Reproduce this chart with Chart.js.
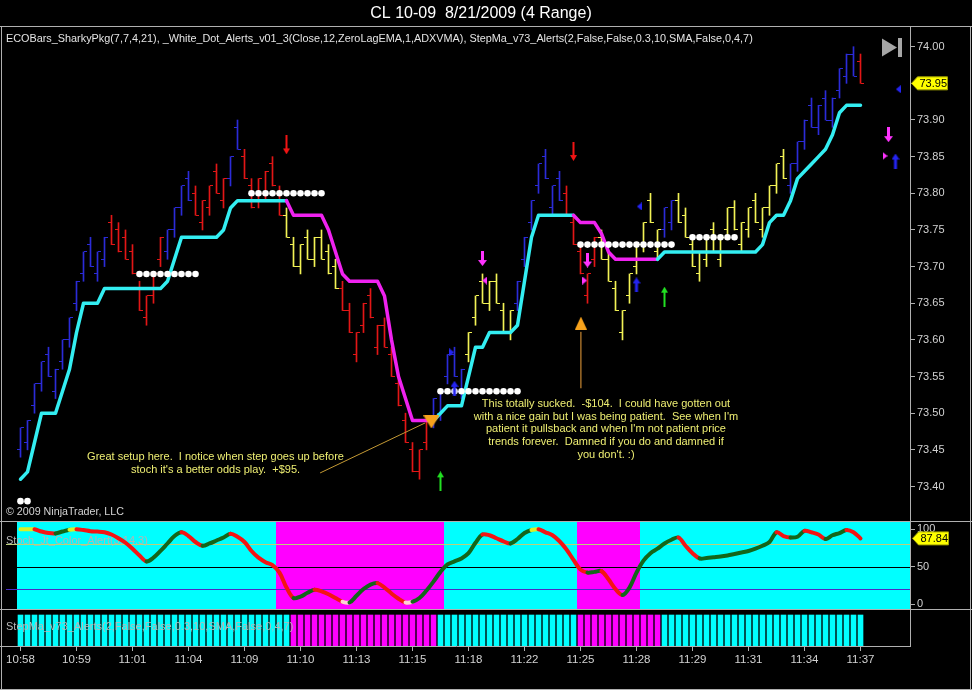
<!DOCTYPE html>
<html>
<head>
<meta charset="utf-8">
<script src="https://cdn.jsdelivr.net/npm/chart.js@4.4.1/dist/chart.umd.min.js"></script>
<style>
  html, body { margin: 0; padding: 0; background: #000; }
  #wrap { position: relative; width: 972px; height: 690px; overflow: hidden; background: #000; }
  #wrap canvas { position: absolute; left: 0; display: block; }
</style>
</head>
<body>
<div id="wrap">
  <canvas id="priceCanvas" width="972" height="521" style="top:0;width:972px;height:521px"></canvas>
  <canvas id="stochCanvas" width="972" height="88" style="top:521px;width:972px;height:88px"></canvas>
  <canvas id="stepCanvas" width="972" height="81" style="top:609px;width:972px;height:81px"></canvas>
</div>
<script>
// ---------------------------------------------------------------------------
// Texts
// ---------------------------------------------------------------------------
const chartTitle = 'CL 10-09  8/21/2009 (4 Range)';
const indicatorCaption = 'ECOBars_SharkyPkg(7,7,4,21), _White_Dot_Alerts_v01_3(Close,12,ZeroLagEMA,1,ADXVMA), StepMa_v73_Alerts(2,False,False,0.3,10,SMA,False,0,4,7)';
const stochCaption = 'Stoch_Jt_Color_Alert(3,14,3)';
const stepCaption = 'StepMa_v73_Alerts(2,False,False,0.3,10,SMA,False,0,4,7)';
const copyrightText = '\u00a9 2009 NinjaTrader, LLC';

// ---------------------------------------------------------------------------
// Axis ticks
// ---------------------------------------------------------------------------
const timeTickBars = [0, 8, 16, 24, 32, 40, 48, 56, 64, 72, 80, 88, 96, 104, 112, 120];
const timeLabels = ['10:58', '10:59', '11:01', '11:04', '11:09', '11:10', '11:13', '11:15',
                    '11:18', '11:22', '11:25', '11:28', '11:29', '11:31', '11:34', '11:37'];
const priceTicks = [73.40, 73.45, 73.50, 73.55, 73.60, 73.65, 73.70, 73.75, 73.80, 73.85, 73.90, 73.95, 74.00];
const stochTicks = [0, 50, 100];
const stochLevels = [20, 50, 80];

// ---------------------------------------------------------------------------
// 4-tick range bars (one entry per bar)
// ---------------------------------------------------------------------------
const barHigh = [
  73.48, 73.49, 73.54, 73.57, 73.59, 73.56, 73.60, 73.63, 73.68, 73.72,
  73.74, 73.72, 73.74, 73.77, 73.76, 73.75, 73.73, 73.68, 73.66, 73.69,
  73.74, 73.75, 73.78, 73.81, 73.83, 73.81, 73.79, 73.81, 73.84, 73.82,
  73.85, 73.90, 73.86, 73.82, 73.82, 73.83, 73.85, 73.81, 73.78, 73.74,
  73.73, 73.75, 73.74, 73.75, 73.73, 73.71, 73.68, 73.65, 73.61, 73.65,
  73.67, 73.62, 73.63, 73.59, 73.55, 73.50, 73.46, 73.45, 73.49, 73.52,
  73.53, 73.58, 73.59, 73.56, 73.61, 73.66, 73.69, 73.68, 73.69, 73.65,
  73.64, 73.68, 73.74, 73.79, 73.84, 73.86, 73.81, 73.83, 73.81, 73.77,
  73.73, 73.69, 73.74, 73.75, 73.72, 73.68, 73.64, 73.69, 73.73, 73.76,
  73.80, 73.75, 73.78, 73.79, 73.80, 73.78, 73.74, 73.72, 73.74, 73.76,
  73.74, 73.78, 73.79, 73.76, 73.78, 73.80, 73.78, 73.81, 73.84, 73.86,
  73.84, 73.87, 73.90, 73.93, 73.92, 73.94, 73.93, 73.97, 73.99, 74.00,
  73.99
];
const barLow = [
  73.44, 73.45, 73.50, 73.53, 73.55, 73.52, 73.56, 73.59, 73.64, 73.68,
  73.70, 73.68, 73.70, 73.73, 73.72, 73.71, 73.69, 73.64, 73.62, 73.65,
  73.70, 73.71, 73.74, 73.77, 73.79, 73.77, 73.75, 73.77, 73.80, 73.78,
  73.81, 73.86, 73.82, 73.78, 73.78, 73.79, 73.81, 73.77, 73.74, 73.70,
  73.69, 73.71, 73.70, 73.71, 73.69, 73.67, 73.64, 73.61, 73.57, 73.61,
  73.63, 73.58, 73.59, 73.55, 73.51, 73.46, 73.42, 73.41, 73.45, 73.48,
  73.49, 73.54, 73.55, 73.52, 73.57, 73.62, 73.65, 73.64, 73.65, 73.61,
  73.60, 73.64, 73.70, 73.75, 73.80, 73.82, 73.77, 73.79, 73.77, 73.73,
  73.69, 73.65, 73.70, 73.71, 73.68, 73.64, 73.60, 73.65, 73.69, 73.72,
  73.76, 73.71, 73.74, 73.75, 73.76, 73.74, 73.70, 73.68, 73.70, 73.72,
  73.70, 73.74, 73.75, 73.72, 73.74, 73.76, 73.74, 73.77, 73.80, 73.82,
  73.80, 73.83, 73.86, 73.89, 73.88, 73.90, 73.89, 73.93, 73.95, 73.96,
  73.95
];
const barOpen = [
  73.45, 73.46, 73.51, 73.54, 73.58, 73.53, 73.57, 73.60, 73.65, 73.69,
  73.73, 73.69, 73.71, 73.76, 73.75, 73.74, 73.72, 73.67, 73.63, 73.66,
  73.71, 73.72, 73.75, 73.78, 73.82, 73.80, 73.76, 73.78, 73.83, 73.79,
  73.82, 73.89, 73.85, 73.81, 73.79, 73.80, 73.84, 73.80, 73.77, 73.73,
  73.70, 73.74, 73.71, 73.74, 73.72, 73.70, 73.67, 73.64, 73.58, 73.62,
  73.66, 73.59, 73.62, 73.58, 73.54, 73.49, 73.45, 73.42, 73.46, 73.49,
  73.50, 73.55, 73.58, 73.53, 73.58, 73.63, 73.68, 73.65, 73.68, 73.64,
  73.61, 73.65, 73.71, 73.76, 73.81, 73.85, 73.78, 73.82, 73.80, 73.76,
  73.72, 73.66, 73.71, 73.74, 73.71, 73.67, 73.61, 73.66, 73.70, 73.73,
  73.79, 73.72, 73.75, 73.76, 73.79, 73.77, 73.73, 73.69, 73.71, 73.75,
  73.71, 73.75, 73.78, 73.73, 73.75, 73.79, 73.75, 73.78, 73.81, 73.85,
  73.81, 73.84, 73.87, 73.92, 73.89, 73.93, 73.90, 73.94, 73.96, 73.99,
  73.98
];
const barClose = [
  73.48, 73.49, 73.54, 73.57, 73.55, 73.56, 73.60, 73.63, 73.68, 73.72,
  73.70, 73.72, 73.74, 73.73, 73.72, 73.71, 73.69, 73.64, 73.66, 73.69,
  73.74, 73.75, 73.78, 73.81, 73.79, 73.77, 73.79, 73.81, 73.80, 73.82,
  73.85, 73.86, 73.82, 73.78, 73.82, 73.83, 73.81, 73.77, 73.74, 73.70,
  73.73, 73.71, 73.74, 73.71, 73.69, 73.67, 73.64, 73.61, 73.61, 73.65,
  73.63, 73.62, 73.59, 73.55, 73.51, 73.46, 73.42, 73.45, 73.49, 73.52,
  73.53, 73.58, 73.55, 73.56, 73.61, 73.66, 73.65, 73.68, 73.65, 73.61,
  73.64, 73.68, 73.74, 73.79, 73.84, 73.82, 73.81, 73.79, 73.77, 73.73,
  73.69, 73.69, 73.74, 73.71, 73.68, 73.64, 73.64, 73.69, 73.73, 73.76,
  73.76, 73.75, 73.78, 73.79, 73.76, 73.74, 73.70, 73.72, 73.74, 73.72,
  73.74, 73.78, 73.75, 73.76, 73.78, 73.76, 73.78, 73.81, 73.84, 73.82,
  73.84, 73.87, 73.90, 73.89, 73.92, 73.90, 73.93, 73.97, 73.99, 73.96,
  73.95
];
// ECOBars state per bar: B = up trend, R = down trend, Y = neutral
const barState = (
  'BBBBBBBBBB' + 'BBBRRRRRRR' + 'RBBBBRRRRR' + 'BBRRRRRRYY' +
  'YYYYYYRRRR' + 'RRRRRRRRRB' + 'BBBBYYYYYY' + 'YBBBBBBBRR' +
  'RRRYYYYYYY' + 'YYBBYYYYYY' + 'YYYYYYYYYY' + 'BBBBBBBBBB' + 'R'
).split('');

// ---------------------------------------------------------------------------
// StepMA line and its direction (U = rising / cyan, D = falling / magenta)
// ---------------------------------------------------------------------------
const stepMa = [
  73.41, 73.42, 73.46, 73.50, 73.50, 73.50, 73.53, 73.56, 73.61, 73.65,
  73.65, 73.65, 73.67, 73.67, 73.67, 73.67, 73.67, 73.67, 73.67, 73.67,
  73.67, 73.68, 73.71, 73.74, 73.74, 73.74, 73.74, 73.74, 73.74, 73.75,
  73.78, 73.79, 73.79, 73.79, 73.79, 73.79, 73.79, 73.79, 73.79, 73.77,
  73.77, 73.77, 73.77, 73.77, 73.75, 73.72, 73.69, 73.68, 73.68, 73.68,
  73.68, 73.68, 73.66, 73.60, 73.55, 73.52, 73.49, 73.49, 73.49, 73.49,
  73.50, 73.51, 73.51, 73.51, 73.55, 73.59, 73.59, 73.61, 73.61, 73.61,
  73.61, 73.62, 73.68, 73.74, 73.77, 73.77, 73.77, 73.77, 73.77, 73.77,
  73.76, 73.76, 73.76, 73.745, 73.72, 73.71, 73.71, 73.71, 73.71, 73.71,
  73.71, 73.71, 73.72, 73.72, 73.72, 73.72, 73.72, 73.72, 73.72, 73.72,
  73.72, 73.72, 73.72, 73.72, 73.72, 73.72, 73.73, 73.76, 73.77, 73.77,
  73.79, 73.82, 73.83, 73.84, 73.85, 73.86, 73.88, 73.91, 73.92, 73.92,
  73.92
];
const stepTrend = (
  'UUUUUUUUUU' + 'UUUUUUUUUU' + 'UUUUUUUUUU' + 'UUUUUUUUUD' +
  'DDDDDDDDDD' + 'DDDDDDDDDD' + 'UUUUUUUUUU' + 'UUUUUUUUUU' +
  'DDDDDDDDDD' + 'DDUUUUUUUU' + 'UUUUUUUUUU' + 'UUUUUUUUUU' + 'U'
).split('');

// White dot alerts: [first bar, last bar, price level]
const whiteDotRuns = [
  [0, 1, 73.38],
  [17, 25, 73.69],
  [33, 43, 73.80],
  [60, 71, 73.53],
  [80, 93, 73.73],
  [96, 102, 73.74]
];

// Signal markers (bar, price)
const sellArrows      = [{ x: 38, y: 73.866 }, { x: 79, y: 73.857 }];
const stepDownArrows  = [{ x: 66, y: 73.711 }, { x: 81, y: 73.709 }, { x: 124, y: 73.880 }];
const stepUpArrows    = [{ x: 62, y: 73.534 }, { x: 88, y: 73.675 }, { x: 125, y: 73.844 }];
const buyArrows       = [{ x: 60, y: 73.407 }, { x: 92, y: 73.659 }];
const magentaLeftMarks  = [{ x: 66.3, y: 73.681 }];
const magentaRightMarks = [{ x: 80.6, y: 73.681 }, { x: 123.5, y: 73.851 }];
const blueRightMarks    = [{ x: 61.6, y: 73.583 }];
const blueLeftMarks     = [{ x: 88.4, y: 73.782 }, { x: 125.4, y: 73.942 }];

// Trade annotations
const entryMarkDown = [{ x: 58.7, y: 73.488 }];
const entryMarkUp   = [{ x: 80.06, y: 73.623 }];
const leaderLong    = [{ x: 42.8, y: 73.4185 }, { x: 57.8, y: 73.4867 }];
const leaderShort   = [{ x: 80.06, y: 73.534 }, { x: 80.06, y: 73.611 }];
const tradeNotes = [
  { x: 27.86, y: 73.4403, lines: ['Great setup here.  I notice when step goes up before',
                                  "stoch it's a better odds play.  +$95."] },
  { x: 83.64, y: 73.5125, lines: ['This totally sucked.  -$104.  I could have gotten out',
                                  "with a nice gain but I was being patient.  See when I'm",
                                  "patient it pullsback and when I'm not patient price",
                                  'trends forever.  Damned if you do and damned if',
                                  "you don't. :)"] }
];

// ---------------------------------------------------------------------------
// Stochastic panel
// ---------------------------------------------------------------------------
const stochK = [
  100, 100, 100, 97, 95, 94.5, 97, 99.5, 100, 99,
  97.5, 97, 96, 93, 88, 82, 74, 65, 57, 62,
  71, 81, 91, 96, 91, 83, 78, 81, 85, 89,
  94, 90, 83, 71, 62, 56, 52, 42, 22, 8,
  10, 15, 19, 17, 13, 8, 3, 2, 11, 20,
  26, 28, 22, 14, 7, 2, 3, 8, 18, 30,
  43, 53, 57, 61, 68, 82, 93, 92, 88, 84,
  81, 87, 95, 99, 100, 96, 92, 84, 73, 59,
  46, 42, 43, 44, 33, 20, 12, 22, 42, 58,
  68, 74, 81, 86, 89, 78, 68, 61, 61.5, 62.5,
  63.5, 65, 67, 69, 71, 74, 78, 83, 96, 91,
  89, 90, 98, 96, 93, 87, 92, 95, 99, 96,
  87.84
];
// G = rising, R = falling, N = flat at an extreme
const stochState = (
  'NNNRRRGGNR' + 'RRRRRRRRRG' + 'GGGGRRRGGG' + 'GRRRRRRRRR' +
  'GGGRRRRNGG' + 'GGRRRRNGGG' + 'GGGGGGGRRR' + 'RGGGNRRRRR' +
  'RRGGRRRGGG' + 'GGGGGRRRGG' + 'GGGGGGGGGR' + 'RGGRRRGGGR' + 'R'
).split('');
// Bars where the stochastic background turns bearish: [first bar, last bar]
const stochDownZones = [[37, 60], [80, 88]];

// ---------------------------------------------------------------------------
// Layout / style constants
// ---------------------------------------------------------------------------
const FONT = '"Liberation Sans", Arial, "Noto Sans", sans-serif';
const FRAME = '#b0b0b0';
const AXIS_TEXT = '#d2d2d2';
const BAR_COLORS = { B: '#2b2bd8', R: '#e21616', Y: '#f2f255' };
const STEP_UP = '#33eef2';
const STEP_DOWN = '#f022f0';
const BG_UP = '#00ffff';
const BG_DOWN = '#ff00ff';
const NOTE_COLOR = '#eeee72';
const PX_PER_BAR = 7;
const PLOT_LEFT = 2, PLOT_RIGHT = 910, FIRST_BAR_PX = 20.5;
const X_MIN = -(FIRST_BAR_PX - PLOT_LEFT) / PX_PER_BAR;
const X_MAX = X_MIN + (PLOT_RIGHT - PLOT_LEFT) / PX_PER_BAR;
const LEVEL_COLORS = { 20: '#4b2cc4', 50: '#000000', 80: '#bcd07a' };

Chart.defaults.font.family = FONT;

function fixRightAxis(scale) {
  scale.width = 972 - PLOT_RIGHT;
  scale.paddingTop = 0;
  scale.paddingBottom = 0;
  scale.getPadding = () => ({ left: 0, top: 0, right: 0, bottom: 0 });
}

// Fix a value axis so that `value` sits at pixel `px` with `pxPerUnit` resolution
function pinValueAxis(chart, id, value, px, pxPerUnit) {
  const a = chart.chartArea;
  const o = chart.options.scales[id];
  o.min = value - (a.bottom - px) / pxPerUnit;
  o.max = value + (px - a.top) / pxPerUnit;
  chart.update();
}

function hLine(ctx, x1, x2, y, color) {
  ctx.save();
  ctx.strokeStyle = color; ctx.lineWidth = 1;
  ctx.beginPath(); ctx.moveTo(x1, y); ctx.lineTo(x2, y); ctx.stroke();
  ctx.restore();
}
function vLine(ctx, x, y1, y2, color) {
  ctx.save();
  ctx.strokeStyle = color; ctx.lineWidth = 1;
  ctx.beginPath(); ctx.moveTo(x, y1); ctx.lineTo(x, y2); ctx.stroke();
  ctx.restore();
}

function drawValueFlag(ctx, x, y, text) {
  ctx.save();
  ctx.beginPath();
  ctx.moveTo(x, y);
  ctx.lineTo(x + 6, y - 6.5);
  ctx.lineTo(x + 36, y - 6.5);
  ctx.lineTo(x + 36, y + 6.5);
  ctx.lineTo(x + 6, y + 6.5);
  ctx.closePath();
  ctx.fillStyle = '#ffff00';
  ctx.fill();
  ctx.strokeStyle = '#a3a300';
  ctx.lineWidth = 1;
  ctx.stroke();
  ctx.fillStyle = '#000';
  ctx.font = '11px ' + FONT;
  ctx.textAlign = 'left';
  ctx.textBaseline = 'middle';
  ctx.fillText(text, x + 8, y + 0.5);
  ctx.restore();
}

// Small bitmaps used as point styles
function arrowImage(color, up, w, h, shaft, head) {
  const c = document.createElement('canvas');
  c.width = w; c.height = h;
  const g = c.getContext('2d');
  g.fillStyle = color;
  const cx = w / 2;
  g.beginPath();
  if (up) {
    g.moveTo(cx, 0); g.lineTo(w, head); g.lineTo(0, head);
  } else {
    g.moveTo(cx, h); g.lineTo(w, h - head); g.lineTo(0, h - head);
  }
  g.closePath(); g.fill();
  if (up) g.fillRect(cx - shaft / 2, head - 0.5, shaft, h - head + 0.5);
  else g.fillRect(cx - shaft / 2, 0, shaft, h - head + 0.5);
  return c;
}
function triangleImage(color, dir, w, h) {
  const c = document.createElement('canvas');
  c.width = w; c.height = h;
  const g = c.getContext('2d');
  g.fillStyle = color;
  g.beginPath();
  if (dir === 'left') { g.moveTo(0, h / 2); g.lineTo(w, 0); g.lineTo(w, h); }
  else if (dir === 'right') { g.moveTo(w, h / 2); g.lineTo(0, 0); g.lineTo(0, h); }
  else if (dir === 'down') { g.moveTo(w / 2, h); g.lineTo(0, 0); g.lineTo(w, 0); }
  else { g.moveTo(w / 2, 0); g.lineTo(w, h); g.lineTo(0, h); }
  g.closePath(); g.fill();
  return c;
}
function tickImage(color, side) {
  const c = document.createElement('canvas');
  c.width = 7; c.height = 1;
  const g = c.getContext('2d');
  g.fillStyle = color;
  g.fillRect(side === 'open' ? 0 : 4, 0, 3, 1);
  return c;
}

const openTicks = {}, closeTicks = {};
Object.keys(BAR_COLORS).forEach(k => {
  openTicks[k] = tickImage(BAR_COLORS[k], 'open');
  closeTicks[k] = tickImage(BAR_COLORS[k], 'close');
});

const imgSell = arrowImage('#f01414', false, 7, 19, 2, 6);
const imgStepDown = arrowImage('#ff33ff', false, 9, 15, 3, 6);
const imgStepUp = arrowImage('#2424f0', true, 8, 15, 3, 6);
const imgBuy = arrowImage('#22e022', true, 7, 20, 2, 6);
const imgMagLeft = triangleImage('#ff33ff', 'left', 5, 8);
const imgMagRight = triangleImage('#ff33ff', 'right', 5, 8);
const imgBlueLeft = triangleImage('#2424f0', 'left', 5, 8);
const imgBlueRight = triangleImage('#2424f0', 'right', 5, 8);
const imgEntryDown = triangleImage('#f7a21c', 'down', 16, 13);
const imgEntryUp = triangleImage('#f7a21c', 'up', 12, 13);

function markerSet(points, image, order) {
  return { type: 'scatter', data: points, pointStyle: image, pointRadius: 3, order: order };
}

// ---------------------------------------------------------------------------
// Price panel
// ---------------------------------------------------------------------------
const whiteDots = [];
whiteDotRuns.forEach(([a, b, level]) => {
  for (let i = a; i <= b; i++) whiteDots.push({ x: i, y: level });
});

const pricePanelDecor = {
  id: 'pricePanelDecor',
  afterDraw(chart) {
    const { ctx, scales: { x, y } } = chart;
    ctx.save();
    hLine(ctx, 0, 972, 26.5, FRAME);
    vLine(ctx, 1.5, 27, 521, FRAME);
    vLine(ctx, 970.5, 27, 521, FRAME);

    ctx.fillStyle = '#ffffff';
    ctx.font = '16px ' + FONT;
    ctx.textAlign = 'center';
    ctx.textBaseline = 'middle';
    ctx.fillText(chartTitle, 481, 13.5);

    ctx.textAlign = 'left';
    ctx.font = '10.85px ' + FONT;
    ctx.fillStyle = '#e4e4e4';
    ctx.fillText(indicatorCaption, 6, 38.5);
    ctx.font = '10.7px ' + FONT;
    ctx.fillStyle = '#d4d4d4';
    ctx.fillText(copyrightText, 6, 512);

    ctx.font = '11px ' + FONT;
    ctx.fillStyle = NOTE_COLOR;
    ctx.textAlign = 'center';
    tradeNotes.forEach(n => {
      const cx = x.getPixelForValue(n.x);
      const cy = y.getPixelForValue(n.y);
      n.lines.forEach((t, k) => ctx.fillText(t, cx, cy + k * 12.7));
    });

    // end-of-chart button
    ctx.fillStyle = '#a6a6a6';
    ctx.beginPath();
    ctx.moveTo(882, 38.5); ctx.lineTo(882, 56.5); ctx.lineTo(897, 47.5);
    ctx.closePath(); ctx.fill();
    ctx.fillRect(898, 38, 4, 19);

    const last = barClose.length - 1;
    drawValueFlag(ctx, 911.5, y.getPixelForValue(barClose[last]), barClose[last].toFixed(2));
    ctx.restore();
  }
};

const priceChart = new Chart(document.getElementById('priceCanvas'), {
  type: 'bar',
  data: {
    datasets: [
      {
        type: 'bar',
        label: 'Range bars',
        data: barHigh.map((h, i) => ({ x: i, y: [barLow[i], h] })),
        backgroundColor: barState.map(s => BAR_COLORS[s]),
        borderWidth: 0,
        barThickness: 1,
        order: 10
      },
      {
        type: 'scatter',
        label: 'Open',
        data: barOpen.map((v, i) => ({ x: i, y: v })),
        pointStyle: c => openTicks[barState[c.dataIndex]],
        pointRadius: 1,
        order: 9
      },
      {
        type: 'scatter',
        label: 'Close',
        data: barClose.map((v, i) => ({ x: i, y: v })),
        pointStyle: c => closeTicks[barState[c.dataIndex]],
        pointRadius: 1,
        order: 9
      },
      {
        type: 'line',
        label: 'StepMA',
        data: stepMa.map((v, i) => ({ x: i, y: v })),
        borderWidth: 3.5,
        borderJoinStyle: 'round',
        borderCapStyle: 'round',
        pointRadius: 0,
        tension: 0,
        segment: { borderColor: c => stepTrend[c.p1DataIndex] === 'U' ? STEP_UP : STEP_DOWN },
        order: 8
      },
      {
        type: 'scatter',
        label: 'White dots',
        data: whiteDots,
        pointRadius: 3.3,
        pointBackgroundColor: '#ffffff',
        pointBorderWidth: 0,
        order: 7
      },
      {
        type: 'line', label: 'Note leader', data: leaderLong,
        borderColor: '#c59a34', borderWidth: 1, pointRadius: 0, order: 6
      },
      {
        type: 'line', label: 'Note leader', data: leaderShort,
        borderColor: '#f0a23c', borderWidth: 1, pointRadius: 0, order: 6
      },
      markerSet(entryMarkDown, imgEntryDown, 5),
      markerSet(entryMarkUp, imgEntryUp, 5),
      markerSet(sellArrows, imgSell, 4),
      markerSet(stepDownArrows, imgStepDown, 4),
      markerSet(stepUpArrows, imgStepUp, 4),
      markerSet(buyArrows, imgBuy, 4),
      markerSet(magentaLeftMarks, imgMagLeft, 4),
      markerSet(magentaRightMarks, imgMagRight, 4),
      markerSet(blueLeftMarks, imgBlueLeft, 4),
      markerSet(blueRightMarks, imgBlueRight, 4)
    ]
  },
  options: {
    responsive: false,
    animation: false,
    devicePixelRatio: 1,
    events: [],
    layout: { autoPadding: false, padding: { left: PLOT_LEFT, top: 27, right: 0, bottom: 0 } },
    plugins: { legend: { display: false }, tooltip: { enabled: false }, title: { display: false } },
    scales: {
      x: { type: 'linear', min: X_MIN, max: X_MAX, display: false, offset: false },
      y: {
        type: 'linear',
        position: 'right',
        min: 73.3529,
        max: 74.0269,
        afterFit: fixRightAxis,
        afterBuildTicks: s => { s.ticks = priceTicks.map(v => ({ value: v })); },
        ticks: { callback: v => Number(v).toFixed(2), color: AXIS_TEXT, font: { size: 11 }, padding: 2 },
        grid: { drawOnChartArea: false, color: FRAME, tickLength: 5 },
        border: { color: FRAME }
      }
    }
  },
  plugins: [pricePanelDecor]
});
// 74.00 at y = 46.7, 733 px per dollar
pinValueAxis(priceChart, 'y', 74.00, 46.7, 733);

// ---------------------------------------------------------------------------
// Stochastic panel
// ---------------------------------------------------------------------------
function stochSegmentColor(i) {
  const s = stochState[i];
  if (s === 'G') return '#13661a';
  if (s === 'R') return '#f41414';
  return stochK[i] > 50 ? '#d8f028' : '#ffd2d2';
}

const stochPanelDecor = {
  id: 'stochPanelDecor',
  beforeDatasetsDraw(chart) {
    const { ctx, chartArea: a, scales: { x, y } } = chart;
    ctx.save();
    const left = x.getPixelForValue(-0.5);
    ctx.fillStyle = BG_UP;
    ctx.fillRect(left, a.top, a.right - left, a.bottom - a.top);
    ctx.fillStyle = BG_DOWN;
    stochDownZones.forEach(([s, e]) => {
      const x0 = x.getPixelForValue(s - 0.5);
      const x1 = x.getPixelForValue(e + 0.5);
      ctx.fillRect(x0, a.top, x1 - x0, a.bottom - a.top);
    });
    stochLevels.forEach(lv => {
      const py = Math.round(y.getPixelForValue(lv)) + 0.5;
      hLine(ctx, 6, a.right, py, LEVEL_COLORS[lv]);
    });
    ctx.fillStyle = '#b4b4b4';
    ctx.font = '11px ' + FONT;
    ctx.textAlign = 'left';
    ctx.textBaseline = 'middle';
    ctx.fillText(stochCaption, 6, 19.5);
    ctx.restore();
  },
  afterDraw(chart) {
    const { ctx, scales: { y } } = chart;
    hLine(ctx, 0, 972, 0.5, FRAME);
    vLine(ctx, 1.5, 0, 88, FRAME);
    vLine(ctx, 970.5, 0, 88, FRAME);
    const last = stochK.length - 1;
    drawValueFlag(ctx, 912.5, y.getPixelForValue(stochK[last]), stochK[last].toFixed(2));
  }
};

const stochChart = new Chart(document.getElementById('stochCanvas'), {
  type: 'line',
  data: {
    datasets: [{
      label: 'Stoch',
      data: stochK.map((v, i) => ({ x: i, y: v })),
      borderWidth: 4,
      borderCapStyle: 'round',
      borderJoinStyle: 'round',
      pointRadius: 0,
      tension: 0.35,
      segment: { borderColor: c => stochSegmentColor(c.p1DataIndex) }
    }]
  },
  options: {
    responsive: false,
    animation: false,
    devicePixelRatio: 1,
    events: [],
    layout: { autoPadding: false, padding: { left: PLOT_LEFT, top: 0, right: 0, bottom: 0 } },
    plugins: { legend: { display: false }, tooltip: { enabled: false } },
    scales: {
      x: { type: 'linear', min: X_MIN, max: X_MAX, display: false, offset: false },
      y: {
        type: 'linear',
        position: 'right',
        min: -6.69,
        max: 111.1,
        afterFit: fixRightAxis,
        afterBuildTicks: s => { s.ticks = stochTicks.map(v => ({ value: v })); },
        ticks: { color: AXIS_TEXT, font: { size: 11 }, padding: 2 },
        grid: { drawOnChartArea: false, color: FRAME, tickLength: 5 },
        border: { color: FRAME }
      }
    }
  },
  plugins: [stochPanelDecor]
});
// 0 at y = 83 inside the panel, 0.747 px per point
pinValueAxis(stochChart, 'y', 0, 83, 0.747);

// ---------------------------------------------------------------------------
// StepMA trend histogram + time axis
// ---------------------------------------------------------------------------
const trendBarHeight = 1;

const stepPanelDecor = {
  id: 'stepPanelDecor',
  afterDatasetsDraw(chart) {
    const { ctx } = chart;
    ctx.save();
    ctx.fillStyle = '#b8b8b8';
    ctx.font = '11px ' + FONT;
    ctx.textAlign = 'left';
    ctx.textBaseline = 'middle';
    ctx.fillText(stepCaption, 6, 18);
    ctx.restore();
  },
  afterDraw(chart) {
    const { ctx, chartArea: a } = chart;
    hLine(ctx, 0, 972, 0.5, FRAME);
    hLine(ctx, 0, a.left + 1, Math.round(a.bottom) + 0.5, FRAME);
    hLine(ctx, 0, 972, 80.5, FRAME);
    vLine(ctx, 1.5, 0, 81, FRAME);
    vLine(ctx, 970.5, 0, 81, FRAME);
  }
};

const stepChart = new Chart(document.getElementById('stepCanvas'), {
  type: 'bar',
  data: {
    datasets: [{
      label: 'StepMA trend',
      data: stepTrend.map((t, i) => ({ x: i, y: trendBarHeight })),
      backgroundColor: stepTrend.map(t => t === 'U' ? BG_UP : BG_DOWN),
      borderWidth: 0,
      barThickness: 5
    }]
  },
  options: {
    responsive: false,
    animation: false,
    devicePixelRatio: 1,
    events: [],
    layout: { autoPadding: false, padding: { left: PLOT_LEFT, top: 0, right: 0, bottom: 0 } },
    plugins: { legend: { display: false }, tooltip: { enabled: false } },
    scales: {
      x: {
        type: 'linear',
        min: X_MIN,
        max: X_MAX,
        offset: false,
        afterBuildTicks: s => { s.ticks = timeTickBars.map(v => ({ value: v })); },
        afterFit: s => { s.height = 44; s.paddingLeft = 0; s.paddingRight = 0; },
        ticks: {
          callback: (v, i) => timeLabels[i],
          color: AXIS_TEXT,
          font: { size: 11.5 },
          padding: 2,
          maxRotation: 0,
          autoSkip: false
        },
        grid: { drawOnChartArea: false, offset: false, color: FRAME, tickLength: 5 },
        border: { color: FRAME }
      },
      y: {
        type: 'linear',
        position: 'right',
        min: 0,
        max: 1.1935,
        afterFit: fixRightAxis,
        ticks: { display: false },
        grid: { display: false },
        border: { color: FRAME }
      }
    }
  },
  plugins: [stepPanelDecor]
});
// full-height trend bars start 6 px below the panel top
pinValueAxis(stepChart, 'y', 0, 37, 31);
</script>
</body>
</html>
